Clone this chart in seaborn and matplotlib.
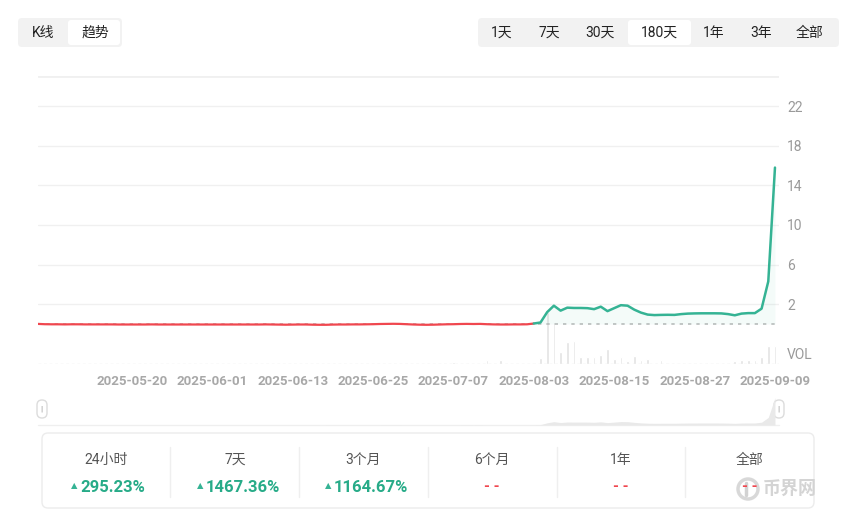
import matplotlib
matplotlib.use("Agg")
import matplotlib.pyplot as plt
import seaborn as sns
import pandas as pd
from matplotlib.patches import FancyBboxPatch, Circle

# price line (axis units as printed on the right axis), one point per trading day shown
price = [
    0.01, -0.02, -0.03, -0.03, -0.04, -0.03, -0.03, -0.04, -0.04, -0.04,
    -0.04, -0.04, -0.05, -0.05, -0.05, -0.05, -0.05, -0.04, -0.05, -0.05,
    -0.05, -0.05, -0.05, -0.05, -0.05, -0.05, -0.05, -0.05, -0.05, -0.05,
    -0.05, -0.05, -0.05, -0.05, -0.04, -0.05, -0.06, -0.07, -0.06, -0.05,
    -0.05, -0.07, -0.08, -0.08, -0.06, -0.05, -0.05, -0.04, -0.04, -0.03,
    -0.02, 0.00, 0.01, 0.02, 0.01, -0.02, -0.05, -0.07, -0.08, -0.07,
    -0.05, -0.03, -0.02, 0.00, 0.01, 0.00, 0.01, -0.02, -0.04, -0.05,
    -0.05, -0.04, -0.04, -0.03, 0.05, 0.15, 1.20, 1.85, 1.35, 1.65,
    1.62, 1.62, 1.60, 1.50, 1.75, 1.30, 1.60, 1.90, 1.85, 1.45,
    1.15, 0.95, 0.90, 0.92, 0.93, 0.92, 1.00, 1.05, 1.07, 1.08,
    1.08, 1.08, 1.07, 1.00, 0.88, 1.05, 1.10, 1.10, 1.55, 4.30,
    15.80,
]
volume = [
    0.5, 0.5, 0.5, 0.5, 0.5, 0.5, 0.5, 0.5, 0.5, 0.5,
    0.5, 0.5, 0.5, 0.5, 0.5, 0.5, 0.5, 0.5, 0.5, 0.5,
    0.5, 0.5, 0.5, 0.5, 0.5, 0.5, 0.5, 0.5, 0.5, 0.5,
    0.5, 0.5, 0.5, 0.5, 0.5, 0.5, 0.5, 0.5, 0.5, 0.5,
    0.5, 0.5, 0.5, 0.5, 1.0, 0.5, 0.5, 0.5, 1.0, 0.5,
    0.5, 0.5, 0.5, 0.5, 0.5, 0.5, 0.5, 0.5, 1.5, 0.5,
    0.5, 0.5, 2.5, 0.5, 1.5, 0.5, 0.5, 4.5, 0.5, 4.2,
    0.5, 0.5, 0.5, 0.5, 1.0, 6.0, 52.0, 42.0, 12.0, 22.0,
    23.0, 7.0, 7.0, 7.0, 9.0, 15.0, 5.3, 6.7, 3.3, 8.0,
    4.3, 5.3, 1.0, 4.3, 1.5, 1.5, 1.5, 1.5, 1.5, 1.5,
    1.5, 1.5, 1.5, 1.5, 3.0, 4.0, 4.0, 4.3, 6.7, 18.0,
    18.0,
]
tick_pos = [14, 26, 38, 50, 62, 74, 86, 98, 110]
tick_labels = ["2025-05-20", "2025-06-01", "2025-06-13", "2025-06-25", "2025-07-07",
               "2025-08-03", "2025-08-15", "2025-08-27", "2025-09-09"]
price_ticks = [2, 6, 10, 14, 18, 22]
split = 74  # where the line turns from red to green

ranges = ["1天", "7天", "30天", "180天", "1年", "3年", "全部"]
stat_names = ["24小时", "7天", "3个月", "6个月", "1年", "全部"]
stat_values = ["295.23%", "1467.36%", "1164.67%", None, None, None]

GREEN = "#35b394"
RED = "#f0474f"

df = pd.DataFrame({"idx": range(len(price)), "price": price, "volume": volume})

sns.set_theme(style="white")
plt.rcParams["font.family"] = ["Roboto", "Noto Sans CJK SC", "DejaVu Sans"]

W, H = 843, 515
fig = plt.figure(figsize=(W / 100, H / 100), dpi=100)

# full-figure layer in pixel coordinates for the controls and the stats panel
bg = fig.add_axes([0, 0, 1, 1])
bg.set_xlim(0, W)
bg.set_ylim(H, 0)
bg.axis("off")


def box(x, y, w, h, fc, ec="none", r=4, lw=1):
    bg.add_patch(FancyBboxPatch((x, y), w, h, boxstyle=f"round,pad=0,rounding_size={r}",
                                fc=fc, ec=ec, lw=lw))


# top buttons
box(18, 18, 104, 29, "#f2f2f2")
box(68, 20, 52, 25, "white", r=3)
bg.text(43, 33, "K线", ha="center", va="center", fontsize=10, color="#222")
bg.text(95, 33, "趋势", ha="center", va="center", fontsize=10, color="#222")

box(478, 18, 361, 29, "#f2f2f2")
box(628, 20, 63, 25, "white", r=3)
for x, lab in zip([502, 549, 600, 659, 714, 761, 810], ranges):
    bg.text(x, 33, lab, ha="center", va="center", fontsize=10, color="#222")

# main chart
x0, x1, ytop, ybot = 38, 779, 76, 364
ax = fig.add_axes([x0 / W, 1 - ybot / H, (x1 - x0) / W, (ybot - ytop) / H])
ax2 = ax.twinx()

sns.barplot(data=df, x="idx", y="volume", native_scale=True, width=0.4,
            color="#e3e3e3", saturation=1, ax=ax2)
ax2.set_ylim(0, 288)
ax2.set_yticks([])
ax2.set_ylabel("")

ymin, ymax = -4.04, 25.05
for v in price_ticks:
    ax.axhline(v, color="#f0f0f0", lw=1, zorder=0)
ax.axhline(ymax, color="#f0f0f0", lw=2, zorder=0)
ax.axhline(ymin, color="#e8e8e8", lw=1, ls=(0, (2, 2)), zorder=0)
ax.axhline(0, color="#bdbdbd", lw=1.2, ls=(0, (2, 3)), zorder=1)

green_part = df.iloc[split:]
ax.fill_between(green_part["idx"], green_part["price"], 0, color=GREEN, alpha=0.05, lw=0)
sns.lineplot(data=df.iloc[:split + 1], x="idx", y="price", color=RED, lw=1.6, ax=ax, zorder=3)
sns.lineplot(data=green_part, x="idx", y="price", color=GREEN, lw=1.8, ax=ax, zorder=4)

ax.set_zorder(ax2.get_zorder() + 1)
ax.patch.set_visible(False)
ax.set_xlim(0, 110.6)
ax.set_ylim(ymin, ymax)
ax.set_xlabel("")
ax.set_ylabel("")
ax.set_xticks(tick_pos, tick_labels)
ax.yaxis.tick_right()
ax.set_yticks(price_ticks, [str(v) for v in price_ticks])
ax.tick_params(axis="x", length=0, pad=8, labelsize=9.5, labelcolor="#a8a8a8")
ax.tick_params(axis="y", length=0, pad=6, labelsize=10, labelcolor="#9a9a9a")
for t in ax.get_xticklabels():
    t.set_fontweight("bold")
for a in (ax, ax2):
    for s in a.spines.values():
        s.set_visible(False)
fig.text(787 / W, 1 - 355 / H, "VOL", ha="left", va="center", fontsize=10, color="#9a9a9a")

# data-zoom preview strip
pv = fig.add_axes([x0 / W, 1 - 425 / H, (x1 - x0) / W, 28 / H])
lo = min(price)
pv.fill_between(df["idx"], [p - lo for p in price], 0, color="#e9e9e9", lw=0)
pv.set_xlim(0, 110.6)
pv.set_ylim(0, 16.2)
pv.axis("off")
bg.plot([x0, x1], [425, 425], color="#f0f0f0", lw=1)
for hx in (42, 779):
    box(hx - 5, 400, 10, 18, "white", ec="#dcdcdc", r=5)
    bg.text(hx, 409, "||", ha="center", va="center", fontsize=5, color="#bbbbbb")

# stats panel
box(42, 433, 772, 75, "white", ec="#ececec", r=6)
centers = [106, 235, 363, 492, 621, 750]
for dx in [170, 299, 428, 557, 685]:
    bg.plot([dx, dx], [447, 497], color="#efefef", lw=1)
starts = [80, 206, 334]
for i, (cx, name, val) in enumerate(zip(centers, stat_names, stat_values)):
    bg.text(cx, 460, name, ha="center", va="center", fontsize=10, color="#555555")
    if val is None:
        bg.text(cx, 487, "- -", ha="center", va="center", fontsize=11,
                fontweight="bold", color=RED)
    else:
        bg.text(starts[i] - 3, 486, "▲", ha="right", va="center", fontsize=6,
                color=GREEN, family=["DejaVu Sans"])
        bg.text(starts[i], 487, val, ha="left", va="center", fontsize=12,
                fontweight="bold", color="#27ab88")

# watermark logo (a ring with a bar) and name
bg.add_patch(Circle((748, 489), 10, fc="white", ec="#d2d2d2", lw=2.5, alpha=0.85))
bg.plot([746, 746], [483, 495], color="#d2d2d2", lw=2.5)
bg.text(763, 489, "币界网", ha="left", va="center", fontsize=13, fontweight="bold",
        color="#d0d0d0", alpha=0.9)

fig.savefig("out.png", dpi=100)
